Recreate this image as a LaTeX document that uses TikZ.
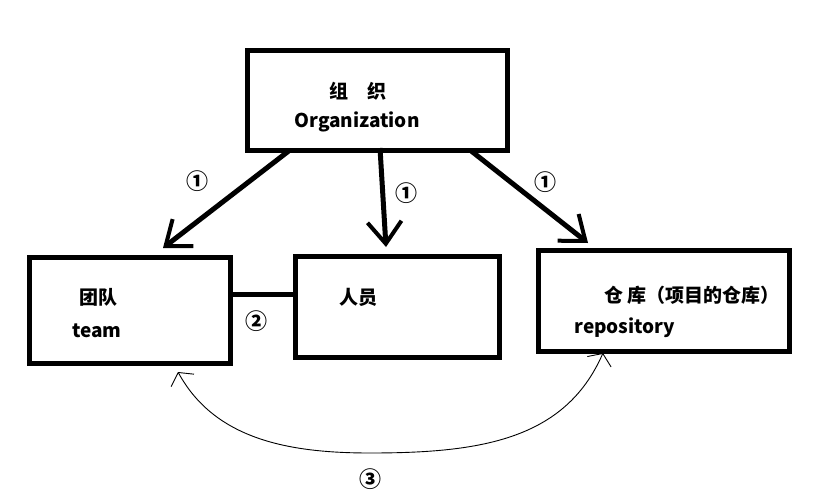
\documentclass[tikz,border=0pt]{standalone}
\usepackage{fontspec}
\setmainfont{Noto Sans CJK SC}
\usetikzlibrary{arrows.meta}

\begin{document}
\begin{tikzpicture}[
  x=1pt,y=-1pt,
  font=\fontsize{19}{22}\selectfont\bfseries,
  entity/.style={draw,line width=5pt,anchor=north west,inner sep=0pt},
  link/.style={line width=5pt,-{Straight Barb[length=22pt,width=34pt,line width=4pt]}},
  bond/.style={line width=5pt},
  loop/.style={line width=0.9pt,{Straight Barb[length=9pt,width=26pt,line width=0.9pt]}-{Straight Barb[length=9pt,width=26pt,line width=0.9pt]}},
  num/.style={font=\fontsize{22}{24}\selectfont\bfseries}
]
\useasboundingbox (0,0) rectangle (815,493);

% boxes
\node[entity,minimum width=260pt,minimum height=100pt] (org) at (245,48) {};
\node[entity,minimum width=201pt,minimum height=106pt] (team) at (27,255) {};
\node[entity,minimum width=204pt,minimum height=101pt] (staff) at (293,254) {};
\node[entity,minimum width=251pt,minimum height=101pt] (repo) at (536,248) {};

% texts
\node (orgcn) at (358,91) {组　织};
\node (orgen) at (357,122) {Organization};
\node (teamcn) at (98,297) {团队};
\node (teamen) at (97,331) {team};
\node (staffcn) at (358,297) {人员};
\node[anchor=west] (repocn) at (601,295) {仓\ 库（项目的仓库）};
\node[anchor=west] (repoen) at (571,328) {repository};

% arrows from the organization
\coordinate (o1) at (290,150);
\coordinate (o2) at (380,148);
\coordinate (o3) at (470,150);
\draw[link] (o1) -- (163,248);
\draw[link] (o2) -- (386,247);
\draw[link] (o3) -- (588,243);
\foreach \x/\y in {197/181, 406/193, 545/182}{
  \node[num] at (\x,\y) {①};
}

% team -- staff
\draw[bond] (team.east |- 0,294) -- (staff.west |- 0,294);
\node[num] (n2) at (256,321) {②};

% team <-> repository
\coordinate (c3l) at (178,372);
\coordinate (c3r) at (603,353);
\draw[loop] (c3l) .. controls (215,440) and (290,453) .. (370,453)
  .. controls (480,453) and (565,440) .. (c3r);
\node[num] (n3) at (370,479) {③};
\end{tikzpicture}
\end{document}
